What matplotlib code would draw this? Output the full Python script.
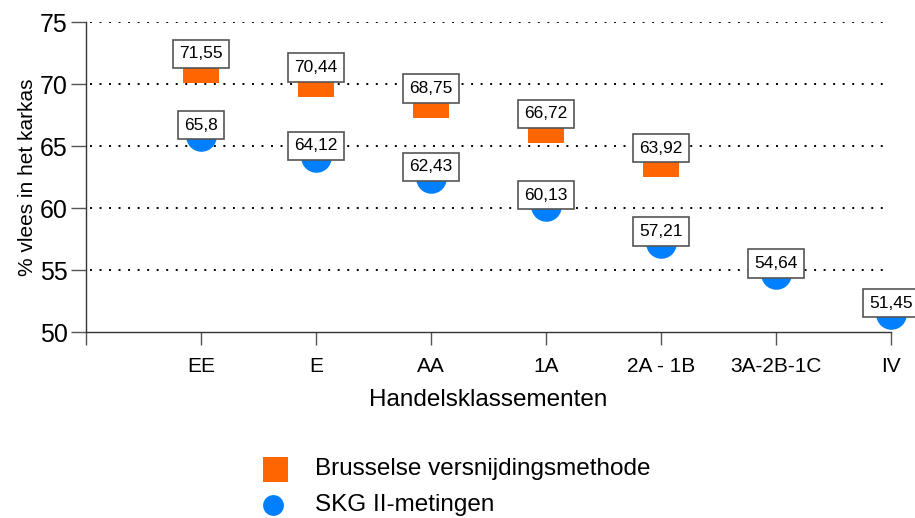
import matplotlib
matplotlib.use("Agg")
import matplotlib.pyplot as plt
from matplotlib.lines import Line2D

plt.rcParams['font.family'] = ['Liberation Sans', 'DejaVu Sans']

categories = ["EE", "E", "AA", "1A", "2A - 1B", "3A-2B-1C", "IV"]
brussel = [71.55, 70.44, 68.75, 66.72, 63.92]
skg = [65.8, 64.12, 62.43, 60.13, 57.21, 54.64, 51.45]
brussel_labels = ["71,55", "70,44", "68,75", "66,72", "63,92"]
skg_labels = ["65,8", "64,12", "62,43", "60,13", "57,21", "54,64", "51,45"]
legend_labels = ["Brusselse versnijdingsmethode", "SKG II-metingen"]

orange = "#FF6600"
blue = "#0080FF"

fig = plt.figure(figsize=(9.15, 5.18), dpi=100)
ax = fig.add_axes([86/915, 1-332/518, 805/915, 310/518])

xb = list(range(1, len(brussel) + 1))
xs = list(range(1, len(skg) + 1))
ax.plot(xb, brussel, linestyle='none', marker='s', markersize=26, color=orange,
        markeredgewidth=0, clip_on=False, zorder=3)
ax.plot(xs, skg, linestyle='none', marker='o', markersize=22, color=blue,
        markeredgewidth=0, clip_on=False, zorder=3)

off = 11 * 72 / 100
bbox = dict(boxstyle='square,pad=0.38', fc='white', ec='#555555', lw=1.2)
for x, v, t in zip(xb, brussel, brussel_labels):
    ax.annotate(t, (x, v), xytext=(0, off), textcoords='offset points',
                ha='center', va='center', fontsize=12.5, zorder=5,
                bbox=bbox, annotation_clip=False)
for x, v, t in zip(xs, skg, skg_labels):
    ax.annotate(t, (x, v), xytext=(0, off), textcoords='offset points',
                ha='center', va='center', fontsize=12.5, zorder=5,
                bbox=bbox, annotation_clip=False)

ax.set_xlim(0, 7)
ax.set_ylim(50, 75)
ax.set_yticks([50, 55, 60, 65, 70, 75])
ax.set_xticks(range(0, 8))
ax.set_xticklabels([""] + categories)
ax.tick_params(axis='y', length=11, width=1, labelsize=18, pad=2, color='#555555')
ax.tick_params(axis='x', length=9, width=1, labelsize=15, pad=9, color='#555555')
for s in ['top', 'right']:
    ax.spines[s].set_visible(False)
for s in ['left', 'bottom']:
    ax.spines[s].set_color('#333333')
    ax.spines[s].set_linewidth(1)

for yv in [55, 60, 65, 70, 75]:
    ax.axhline(yv, color='black', linestyle=(0, (1, 3.9)), linewidth=1.4, zorder=1,
               xmin=0.005, xmax=0.993)

ax.set_xlabel("Handelsklassementen", fontsize=17.5, labelpad=9)
ax.set_ylabel("% vlees in het karkas", fontsize=15, labelpad=2)

# legend drawn manually in figure coordinates
W, H = 915, 518
fig.add_artist(Line2D([275/W], [1-469/H], transform=fig.transFigure, linestyle='none',
                      marker='s', markersize=18, color=orange, markeredgewidth=0))
fig.add_artist(Line2D([273/W], [1-505/H], transform=fig.transFigure, linestyle='none',
                      marker='o', markersize=15, color=blue, markeredgewidth=0))
fig.text(315/W, 1-469/H, legend_labels[0], fontsize=17.5, va='center', ha='left')
fig.text(315/W, 1-505/H, legend_labels[1], fontsize=17.5, va='center', ha='left')

fig.savefig("out.png", dpi=100)
